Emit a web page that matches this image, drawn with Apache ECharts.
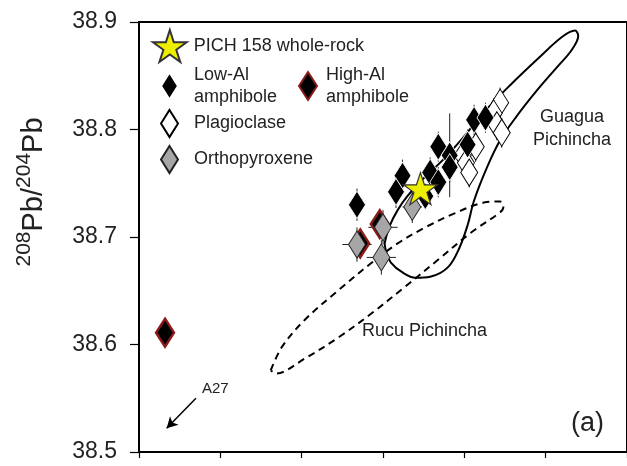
<!DOCTYPE html>
<html>
<head>
<meta charset="utf-8">
<script src="https://cdn.jsdelivr.net/npm/echarts@6/dist/echarts.min.js"></script>
<style>
  html, body { margin: 0; background: #fff; }
  #chart { width: 627px; height: 466px; }
</style>
</head>
<body>
<div id="chart"></div>
<script>
// [206Pb/204Pb, 208Pb/204Pb, x error, y error]
const lowAl = [
  [18.934, 38.730, 0.005, 0.015],
  [18.962, 38.757, 0.005, 0.015],
  [18.958, 38.742, 0.005, 0.015],
  [18.984, 38.784, 0.005, 0.014],
  [18.979, 38.760, 0.005, 0.014],
  [18.984, 38.751, 0.005, 0.014],
  [18.991, 38.776, 0.003, 0.039],
  [18.991, 38.765, 0.005, 0.014],
  [19.002, 38.786, 0.005, 0.014],
  [19.006, 38.809, 0.005, 0.014],
  [19.013, 38.811, 0.005, 0.014],
  [18.976, 38.738, 0.000, 0.000]
];
const highAl = [
  [18.816, 38.611, 0, 0],
  [18.936, 38.694, 0, 0],
  [18.948, 38.712, 0, 0]
];
const plagioclase = [
  [19.022, 38.825, 0.004, 0.014],
  [19.018, 38.815, 0.004, 0.014],
  [19.020, 38.804, 0.004, 0.014],
  [19.023, 38.797, 0.004, 0.014],
  [19.007, 38.784, 0.004, 0.014],
  [18.999, 38.776, 0.004, 0.014],
  [19.001, 38.769, 0.004, 0.014],
  [19.003, 38.760, 0.004, 0.014]
];
const orthopyroxene = [
  [18.934, 38.693, 0.009, 0.016],
  [18.950, 38.709, 0.009, 0.016],
  [18.949, 38.681, 0.009, 0.016],
  [18.968, 38.728, 0.006, 0.015]
];
const wholeRock = [[18.973, 38.745]];

// field outlines
const guaguaField = [
  [18.951, 38.694], [18.954, 38.710], [18.959, 38.725], [18.965, 38.738], [18.974, 38.753],
  [18.987, 38.772], [18.999, 38.792], [19.012, 38.816], [19.028, 38.841], [19.046, 38.867],
  [19.060, 38.886], [19.068, 38.892], [19.070, 38.887], [19.066, 38.874], [19.057, 38.858],
  [19.045, 38.837], [19.032, 38.812], [19.022, 38.790], [19.014, 38.765], [19.006, 38.734],
  [19.002, 38.711], [18.997, 38.690], [18.990, 38.672], [18.979, 38.663], [18.970, 38.662],
  [18.962, 38.667], [18.955, 38.676], [18.952, 38.686], [18.951, 38.694]
];
const rucuField = [
  [18.881, 38.576], [18.888, 38.598], [18.902, 38.623], [18.923, 38.651], [18.943, 38.676],
  [18.959, 38.694], [18.976, 38.709], [18.994, 38.722], [19.012, 38.732], [19.022, 38.733],
  [19.024, 38.728], [19.022, 38.723], [19.004, 38.704], [18.984, 38.679], [18.963, 38.653],
  [18.943, 38.629], [18.923, 38.607], [18.902, 38.587], [18.884, 38.573], [18.881, 38.576]
];
const a27Arrow = [[18.835, 38.550], [18.817, 38.522]];

const FONT = '"Liberation Sans", Arial, sans-serif';
const STAR = 'path://M50,0 L61.2,34.5 L97.6,34.5 L68.2,55.9 L79.4,90.5 L50,69.1 L20.6,90.5 L31.8,55.9 L2.4,34.5 L38.8,34.5 Z';

const chart = echarts.init(document.getElementById('chart'));

function errorBars(name, data) {
  return {
    name: name + ' err',
    type: 'custom',
    z: 1,
    silent: true,
    data: data,
    renderItem: function (params, api) {
      const x = api.value(0), y = api.value(1), ex = api.value(2), ey = api.value(3);
      const a = api.coord([x - ex, y]), b = api.coord([x + ex, y]);
      const c = api.coord([x, y - ey]), d = api.coord([x, y + ey]);
      const st = { stroke: '#222', lineWidth: 1 };
      return {
        type: 'group',
        children: [
          { type: 'line', shape: { x1: a[0], y1: a[1], x2: b[0], y2: b[1] }, style: st },
          { type: 'line', shape: { x1: c[0], y1: c[1], x2: d[0], y2: d[1] }, style: st }
        ]
      };
    }
  };
}

const legendBase = {
  padding: 0,
  selectedMode: false,
  itemWidth: 17,
  itemHeight: 27,
  textStyle: { fontSize: 18, fontFamily: FONT, color: '#222', lineHeight: 22, padding: [0, 0, 0, 11] },
  formatter: function (n) { return n.replace(' amphibole', '\namphibole'); }
};

const option = {
  animation: false,
  backgroundColor: '#fff',
  grid: { left: 139, top: 22, width: 492, height: 430, show: true, borderColor: '#000', borderWidth: 2 },
  xAxis: {
    type: 'value', min: 18.8, max: 19.1, interval: 0.05,
    axisLine: { lineStyle: { color: '#000', width: 2 } },
    axisTick: { length: 6, lineStyle: { color: '#000', width: 1.2 } },
    axisLabel: { show: false },
    splitLine: { show: false }
  },
  yAxis: {
    type: 'value', min: 38.5, max: 38.9, interval: 0.1,
    axisLine: { lineStyle: { color: '#000', width: 2 } },
    axisTick: { length: 9, lineStyle: { color: '#000', width: 1.2 } },
    axisLabel: { fontSize: 23, fontFamily: FONT, color: '#222', margin: 22,
      formatter: function (v) { return v.toFixed(1); } },
    splitLine: { show: false }
  },
  legend: [
    Object.assign({}, legendBase, { data: ['PICH 158 whole-rock'], left: 152, top: 29, itemWidth: 34, itemHeight: 32,
      textStyle: Object.assign({}, legendBase.textStyle, { padding: [0, 0, 0, 2] }) }),
    Object.assign({}, legendBase, { data: ['Low-Al amphibole'], left: 160, top: 64 }),
    Object.assign({}, legendBase, { data: ['High-Al amphibole'], left: 298, top: 64, itemWidth: 18, itemHeight: 28,
      textStyle: Object.assign({}, legendBase.textStyle, { padding: [0, 0, 0, 4] }) }),
    Object.assign({}, legendBase, { data: ['Plagioclase'], left: 160, top: 109 }),
    Object.assign({}, legendBase, { data: ['Orthopyroxene'], left: 160, top: 145 })
  ],
  graphic: [
    {
      type: 'text', x: 31, y: 192, rotation: Math.PI / 2,
      style: {
        text: '{s|208}{m|Pb/}{s|204}{m|Pb}',
        align: 'center', verticalAlign: 'middle',
        rich: {
          m: { fontSize: 29, fontFamily: FONT, fill: '#222', lineHeight: 34, verticalAlign: 'bottom' },
          s: { fontSize: 21, fontFamily: FONT, fill: '#222', lineHeight: 34, verticalAlign: 'top' }
        }
      }
    },
    { type: 'text', x: 572, y: 129, style: { text: 'Guagua\nPichincha', align: 'center', verticalAlign: 'middle',
      fontSize: 18, lineHeight: 23, fontFamily: FONT, fill: '#222' } },
    { type: 'text', x: 362, y: 331, style: { text: 'Rucu Pichincha', verticalAlign: 'middle',
      fontSize: 18, fontFamily: FONT, fill: '#222' } },
    { type: 'text', x: 202, y: 389, style: { text: 'A27', verticalAlign: 'middle',
      fontSize: 15, fontFamily: FONT, fill: '#222' } },
    { type: 'text', x: 571, y: 424, style: { text: '(a)', verticalAlign: 'middle',
      fontSize: 27, fontFamily: FONT, fill: '#222' } }
  ],
  series: [
    {
      name: 'Guagua', type: 'line', data: guaguaField, smooth: 0.35, symbol: 'none', z: 1, silent: true,
      lineStyle: { color: '#000', width: 2 }
    },
    {
      name: 'Rucu', type: 'line', data: rucuField, smooth: 0.35, symbol: 'none', z: 1, silent: true,
      lineStyle: { color: '#000', width: 2, type: [7, 5] }
    },
    {
      name: 'A27', type: 'line', data: [], z: 1, silent: true,
      markLine: {
        silent: true, symbol: ['none', 'arrow'], symbolSize: [9, 11],
        lineStyle: { color: '#000', width: 1.5, type: 'solid' }, label: { show: false },
        data: [[{ coord: a27Arrow[0] }, { coord: a27Arrow[1] }]]
      }
    },
    errorBars('Low-Al amphibole', lowAl),
    errorBars('Plagioclase', plagioclase),
    errorBars('Orthopyroxene', orthopyroxene),
    {
      name: 'High-Al amphibole', type: 'scatter', symbol: 'diamond', symbolSize: [18, 28], z: 2, data: highAl,
      itemStyle: { color: '#000', borderColor: '#8B1A1A', borderWidth: 2.5, opacity: 1 }
    },
    {
      name: 'Plagioclase', type: 'scatter', symbol: 'diamond', symbolSize: [17, 27], z: 2, data: plagioclase,
      itemStyle: { color: '#fff', borderColor: '#000', borderWidth: 1, opacity: 1 }
    },
    {
      name: 'Low-Al amphibole', type: 'scatter', symbol: 'diamond', symbolSize: [17, 27], z: 2, data: lowAl,
      itemStyle: { color: '#000', borderColor: '#fff', borderWidth: 0.8, opacity: 1 }
    },
    {
      name: 'Orthopyroxene', type: 'scatter', symbol: 'diamond', symbolSize: [17, 27], z: 2, data: orthopyroxene,
      itemStyle: { color: '#A6A6A6', borderColor: '#222', borderWidth: 1, opacity: 1 }
    },
    {
      name: 'PICH 158 whole-rock', type: 'scatter', symbol: STAR, symbolSize: [34, 32], z: 3, data: wholeRock,
      itemStyle: { color: '#EEEE00', borderColor: '#333', borderWidth: 1.2, opacity: 1 }
    }
  ]
};

chart.setOption(option);
</script>
</body>
</html>
